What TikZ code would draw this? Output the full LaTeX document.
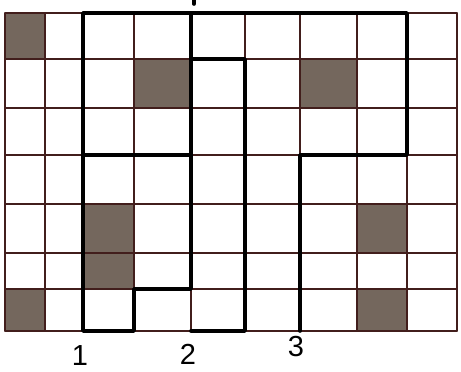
\documentclass[tikz,border=0pt]{standalone}
\usepackage{fontspec}
\setmainfont{Liberation Sans}
\usetikzlibrary{calc}

\definecolor{cellgray}{RGB}{116,103,93}
\definecolor{gridbrown}{RGB}{66,30,28}

\begin{document}
\begin{tikzpicture}[
  x=1pt,
  y=-1pt,
  line cap=round,
  line join=round,
  gridline/.style={draw=gridbrown, line width=1.4pt},
  boldline/.style={draw=black, line width=3.6pt},
  cell/.style={fill=cellgray},
  digit/.style={font=\fontsize{29}{33}\selectfont, inner sep=0pt},
]

\useasboundingbox (0,0) rectangle (461,372);

% shaded cells
\fill[cell] (5,13) rectangle (45,59);
\fill[cell] (134,59) rectangle (191,108);
\fill[cell] (300,59) rectangle (357,108);
\fill[cell] (83,204) rectangle (134,289);
\fill[cell] (5,289) rectangle (45,331);
\fill[cell] (357,204) rectangle (407,253);
\fill[cell] (357,289) rectangle (407,331);

% the grid (9 columns, 7 rows)
\foreach \xx in {5,45,83,134,191,245,300,357,407,457}
  \draw[gridline] (\xx,13) -- (\xx,331);
\foreach \yy in {13,59,108,155,204,253,289,331}
  \draw[gridline] (5,\yy) -- (457,\yy);

% bold outlines
\draw[boldline] (300,331) -- (300,155) -- (407,155) -- (407,13) -- (83,13) -- (83,331)
  -- (134,331) -- (134,289) -- (191,289) -- (191,13);
\draw[boldline] (83,155) -- (191,155);
\draw[boldline] (191,59) -- (245,59) -- (245,331) -- (191,331);
\draw[boldline] (194,0) -- (194,4);

% labels under the grid
\node[digit] (lab1) at (80,356) {1};
\node[digit] (lab2) at (188,354) {2};
\node[digit] (lab3) at (296,347) {3};

\end{tikzpicture}
\end{document}
